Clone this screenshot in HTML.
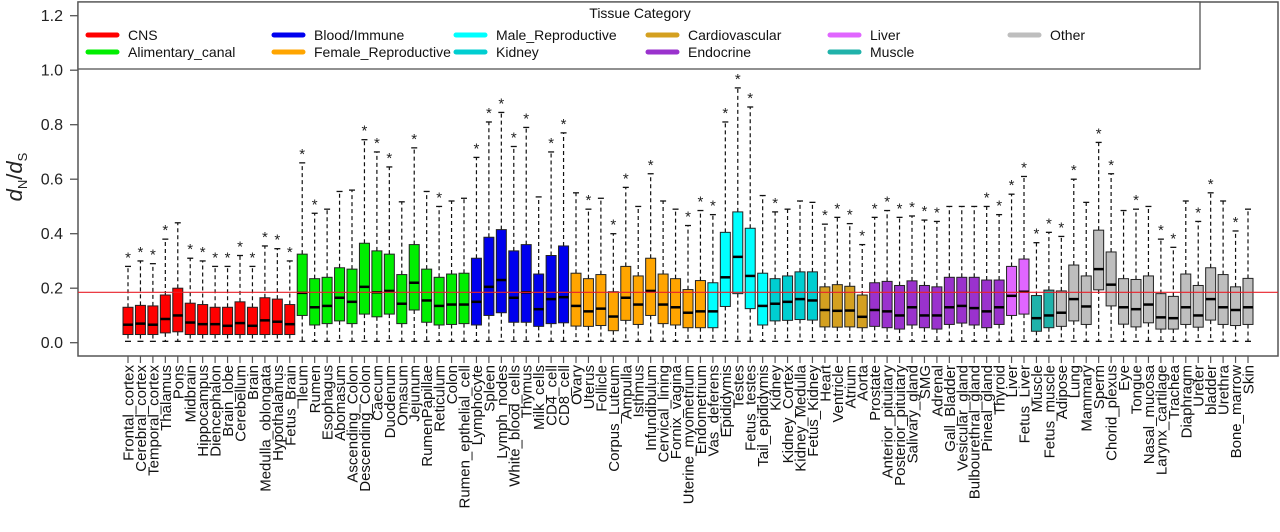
<!DOCTYPE html>
<html><head><meta charset="utf-8"><style>
html,body{margin:0;padding:0;background:#fff;}
svg{display:block;font-family:"Liberation Sans",sans-serif;}
</style></head><body>
<svg id="chart" width="1280" height="532" viewBox="0 0 1280 532"></svg>
<script>
const names=["Frontal_cortex","Cerebral_cortex","Temporal_cortex","Thalamus","Pons","Midbrain","Hippocampus","Diencephalon","Brain_lobe","Cerebellum","Brain","Medulla_oblongata","Hypothalamus","Fetus_Brain",
"Ileum","Rumen","Esophagus","Abomasum","Ascending_Colon","Descending_Colon","Caecum","Duodenum","Omasum","Jejunum","RumenPapillae","Reticulum","Colon","Rumen_epthelial_cell",
"Lymphocyte","Spleen","Lymph_nodes","White_blood_cells","Thymus","Milk_cells","CD4_cell","CD8_cell",
"Ovary","Uterus","Follicle","Corpus_Luteum","Ampulla","Isthmus","Infundibulum","Cervical_lining","Fornix_vagina","Uterine_myometrium","Endometrium",
"Vas_deferens","Epididymis","Testes","Fetus_testes","Tail_epididymis",
"Kidney","Kidney_Cortex","Kidney_Medulla","Fetus_Kidney",
"Heart","Ventricle","Atrium","Aorta",
"Prostate","Anterior_pituitary","Posterior_pituitary","Salivary_gland","SMG","Adrenal","Gall_Bladder","Vesicular_gland","Bulbourethral_gland","Pineal_gland","Thyroid",
"Liver","Fetus_Liver","Muscle","Fetus_muscle",
"Adipose","Lung","Mammary","Sperm","Chorid_plexus","Eye","Tongue","Nasal_mucosa","Larynx_cartilage","Trachea","Diaphragm","Ureter","bladder","Urethra","Bone_marrow","Skin"];
const groupIdx=[0,0,0,0,0,0,0,0,0,0,0,0,0,0, 1,1,1,1,1,1,1,1,1,1,1,1,1,1, 2,2,2,2,2,2,2,2, 3,3,3,3,3,3,3,3,3,3,3, 4,4,4,4,4, 5,5,5,5, 6,6,6,6, 7,7,7,7,7,7,7,7,7,7,7, 8,8, 9,9, 10,10,10,10,10,10,10,10,10,10,10,10,10,10,10,10];
const q1=[0.03,0.03,0.03,0.036,0.04,0.03,0.03,0.03,0.03,0.03,0.03,0.03,0.03,0.03, 0.10,0.065,0.07,0.08,0.07,0.105,0.095,0.105,0.07,0.12,0.075,0.065,0.067,0.07, 0.065,0.10,0.11,0.075,0.075,0.06,0.07,0.073, 0.061,0.06,0.063,0.044,0.082,0.067,0.10,0.07,0.065,0.055,0.055, 0.055,0.133,0.18,0.125,0.065, 0.08,0.082,0.085,0.083, 0.058,0.057,0.058,0.055, 0.06,0.055,0.05,0.065,0.055,0.05,0.067,0.072,0.065,0.055,0.067, 0.10,0.105,0.042,0.055, 0.06,0.08,0.067,0.194,0.135,0.068,0.058,0.073,0.05,0.05,0.067,0.057,0.083,0.067,0.063,0.067];
const med=[0.066,0.07,0.066,0.087,0.10,0.074,0.068,0.068,0.062,0.072,0.062,0.082,0.077,0.068, 0.183,0.13,0.135,0.165,0.15,0.205,0.185,0.19,0.143,0.22,0.155,0.135,0.14,0.14, 0.15,0.205,0.23,0.165,0.185,0.123,0.16,0.167, 0.135,0.115,0.125,0.096,0.165,0.14,0.19,0.14,0.13,0.11,0.115, 0.115,0.24,0.315,0.245,0.135, 0.143,0.15,0.16,0.155, 0.12,0.117,0.118,0.095, 0.12,0.115,0.10,0.13,0.10,0.10,0.13,0.135,0.127,0.115,0.13, 0.172,0.187,0.09,0.10, 0.11,0.16,0.133,0.27,0.213,0.13,0.123,0.14,0.093,0.09,0.13,0.10,0.16,0.13,0.12,0.13];
const q3=[0.13,0.137,0.135,0.175,0.20,0.145,0.14,0.13,0.13,0.15,0.13,0.165,0.16,0.14, 0.325,0.235,0.24,0.275,0.27,0.365,0.337,0.325,0.25,0.36,0.27,0.24,0.252,0.255, 0.31,0.387,0.415,0.337,0.36,0.252,0.32,0.355, 0.255,0.235,0.25,0.187,0.28,0.245,0.31,0.252,0.235,0.195,0.228, 0.22,0.405,0.48,0.42,0.255, 0.235,0.245,0.26,0.26, 0.205,0.213,0.207,0.175, 0.22,0.225,0.21,0.227,0.21,0.205,0.24,0.24,0.24,0.23,0.23, 0.28,0.307,0.173,0.193, 0.19,0.285,0.245,0.413,0.333,0.235,0.232,0.245,0.18,0.17,0.252,0.21,0.275,0.25,0.205,0.236];
const whiskerHigh=[0.28,0.30,0.29,0.38,0.44,0.31,0.30,0.28,0.28,0.32,0.28,0.355,0.345,0.30, 0.66,0.475,0.49,0.555,0.56,0.745,0.70,0.645,0.517,0.715,0.555,0.50,0.52,0.53, 0.68,0.81,0.845,0.72,0.79,0.535,0.70,0.77, 0.55,0.49,0.53,0.40,0.57,0.50,0.62,0.52,0.49,0.43,0.485, 0.47,0.81,0.935,0.865,0.54, 0.48,0.49,0.52,0.515, 0.435,0.46,0.437,0.36, 0.46,0.485,0.46,0.465,0.45,0.445,0.50,0.50,0.50,0.50,0.47, 0.545,0.61,0.367,0.405, 0.39,0.60,0.515,0.735,0.62,0.485,0.49,0.50,0.38,0.35,0.52,0.445,0.55,0.52,0.41,0.49];
const whiskerLow=0.005;
const hasStar=[1,1,1,1,0,1,1,1,1,1,1,1,1,1, 1,1,0,0,0,1,1,1,0,1,0,1,0,0, 1,1,1,1,1,0,1,1, 0,1,0,1,1,0,1,0,0,1,1, 1,1,1,1,0, 1,0,0,0, 1,1,1,1, 1,1,1,1,1,1,0,0,0,1,1, 1,1,1,1, 1,1,0,1,1,0,1,0,1,1,0,1,1,0,1,0];
const groups=["CNS","Alimentary_canal","Blood/Immune","Female_Reproductive","Male_Reproductive","Kidney","Cardiovascular","Endocrine","Liver","Muscle","Other"];
const groupColors=["#ff0000","#00ee00","#0000ee","#ffa500","#00ffff","#00ced1","#d4a020","#9a32cd","#e066ff","#20b2aa","#bebebe"];
const yTicks=[0,0.2,0.4,0.6,0.8,1.0,1.2];
const refLine=0.185;

const svg=document.getElementById('chart');
const NS="http://www.w3.org/2000/svg";
function mk(tag,attrs,parent){const e=document.createElementNS(NS,tag);for(const k in attrs)e.setAttribute(k,attrs[k]);(parent||svg).appendChild(e);return e;}
const y0=342.7, yPer=272.5;
function ys(v){return y0-v*yPer;}
const x0=128, dx=(1248-128)/(names.length-1);
function xs(i){return x0+i*dx;}

const frame=mk('rect',{x:78,y:2,width:1200,height:354,fill:'none',stroke:'#555','stroke-width':1.5});



yTicks.forEach(t=>{
  const l=mk('line',{x1:70,x2:78,y1:ys(t),y2:ys(t),stroke:'#555','stroke-width':1.3});
  
  
  const tx=mk('text',{x:63,y:ys(t)+5.5,'text-anchor':'end','font-size':16,fill:'#222'});
  tx.textContent=t.toFixed(1);
  
  
});
const yt=mk('text',{transform:'translate(22,177) rotate(-90)','text-anchor':'middle','font-size':22,fill:'#222'});
yt.innerHTML='<tspan font-style="italic">d</tspan><tspan font-size="13" dy="5">N</tspan><tspan dy="-5">/</tspan><tspan font-style="italic">d</tspan><tspan font-size="13" dy="5">S</tspan>';



const bw=10;
names.forEach((n,i)=>{
  const g=mk('g',{});
  
  
  const x=xs(i);
  mk('line',{x1:x,x2:x,y1:ys(q3[i]),y2:ys(whiskerHigh[i]),stroke:'#111','stroke-width':1.2,'stroke-dasharray':'4,3'},g);
  mk('line',{x1:x,x2:x,y1:ys(q1[i]),y2:ys(whiskerLow),stroke:'#111','stroke-width':1.2,'stroke-dasharray':'4,3'},g);
  mk('line',{x1:x-3,x2:x+3,y1:ys(whiskerHigh[i]),y2:ys(whiskerHigh[i]),stroke:'#111','stroke-width':1.3},g);
  mk('line',{x1:x-3,x2:x+3,y1:ys(whiskerLow),y2:ys(whiskerLow),stroke:'#111','stroke-width':1.3},g);
  mk('rect',{x:x-bw/2,y:ys(q3[i]),width:bw,height:ys(q1[i])-ys(q3[i]),fill:groupColors[groupIdx[i]],stroke:'#222','stroke-width':1},g);
  mk('line',{x1:x-bw/2,x2:x+bw/2,y1:ys(med[i]),y2:ys(med[i]),stroke:'#000','stroke-width':2.5},g);
  if(hasStar[i]){const s=mk('text',{x:x,y:ys(whiskerHigh[i])-4,'text-anchor':'middle','font-size':15,fill:'#222'},g);s.textContent='*';}
  const tk=mk('line',{x1:x,x2:x,y1:356,y2:363,stroke:'#555','stroke-width':1.2});
  
  
  const lb=mk('text',{transform:`translate(${x+5.5},365) rotate(-90)`,'text-anchor':'end','font-size':15,fill:'#111'});
  lb.textContent=n;
  
  
});

const rl=mk('line',{x1:78,x2:1278,y1:ys(refLine),y2:ys(refLine),stroke:'#e8202a','stroke-width':1.2});



const lg=mk('g',{});


mk('rect',{x:78,y:2,width:1122,height:67,fill:'#fff',stroke:'#555','stroke-width':1.3},lg);
const lt=mk('text',{x:640,y:18,'text-anchor':'middle','font-size':14,fill:'#111'},lg);
lt.textContent='Tissue Category';


const colX=[88,274,456,648,830,1010];
groups.forEach((gname,k)=>{
  const c=Math.floor(k/2), r=k%2;
  const lx=colX[c], ly=r?52:35;
  const e=mk('g',{},lg);
  
  
  mk('line',{x1:lx,x2:lx+29,y1:ly,y2:ly,stroke:groupColors[k],'stroke-width':5,'stroke-linecap':'round'},e);
  const t=mk('text',{x:lx+40,y:ly+5,'font-size':14,fill:'#111'},e);
  t.textContent=gname;
});
</script>
</body></html>
